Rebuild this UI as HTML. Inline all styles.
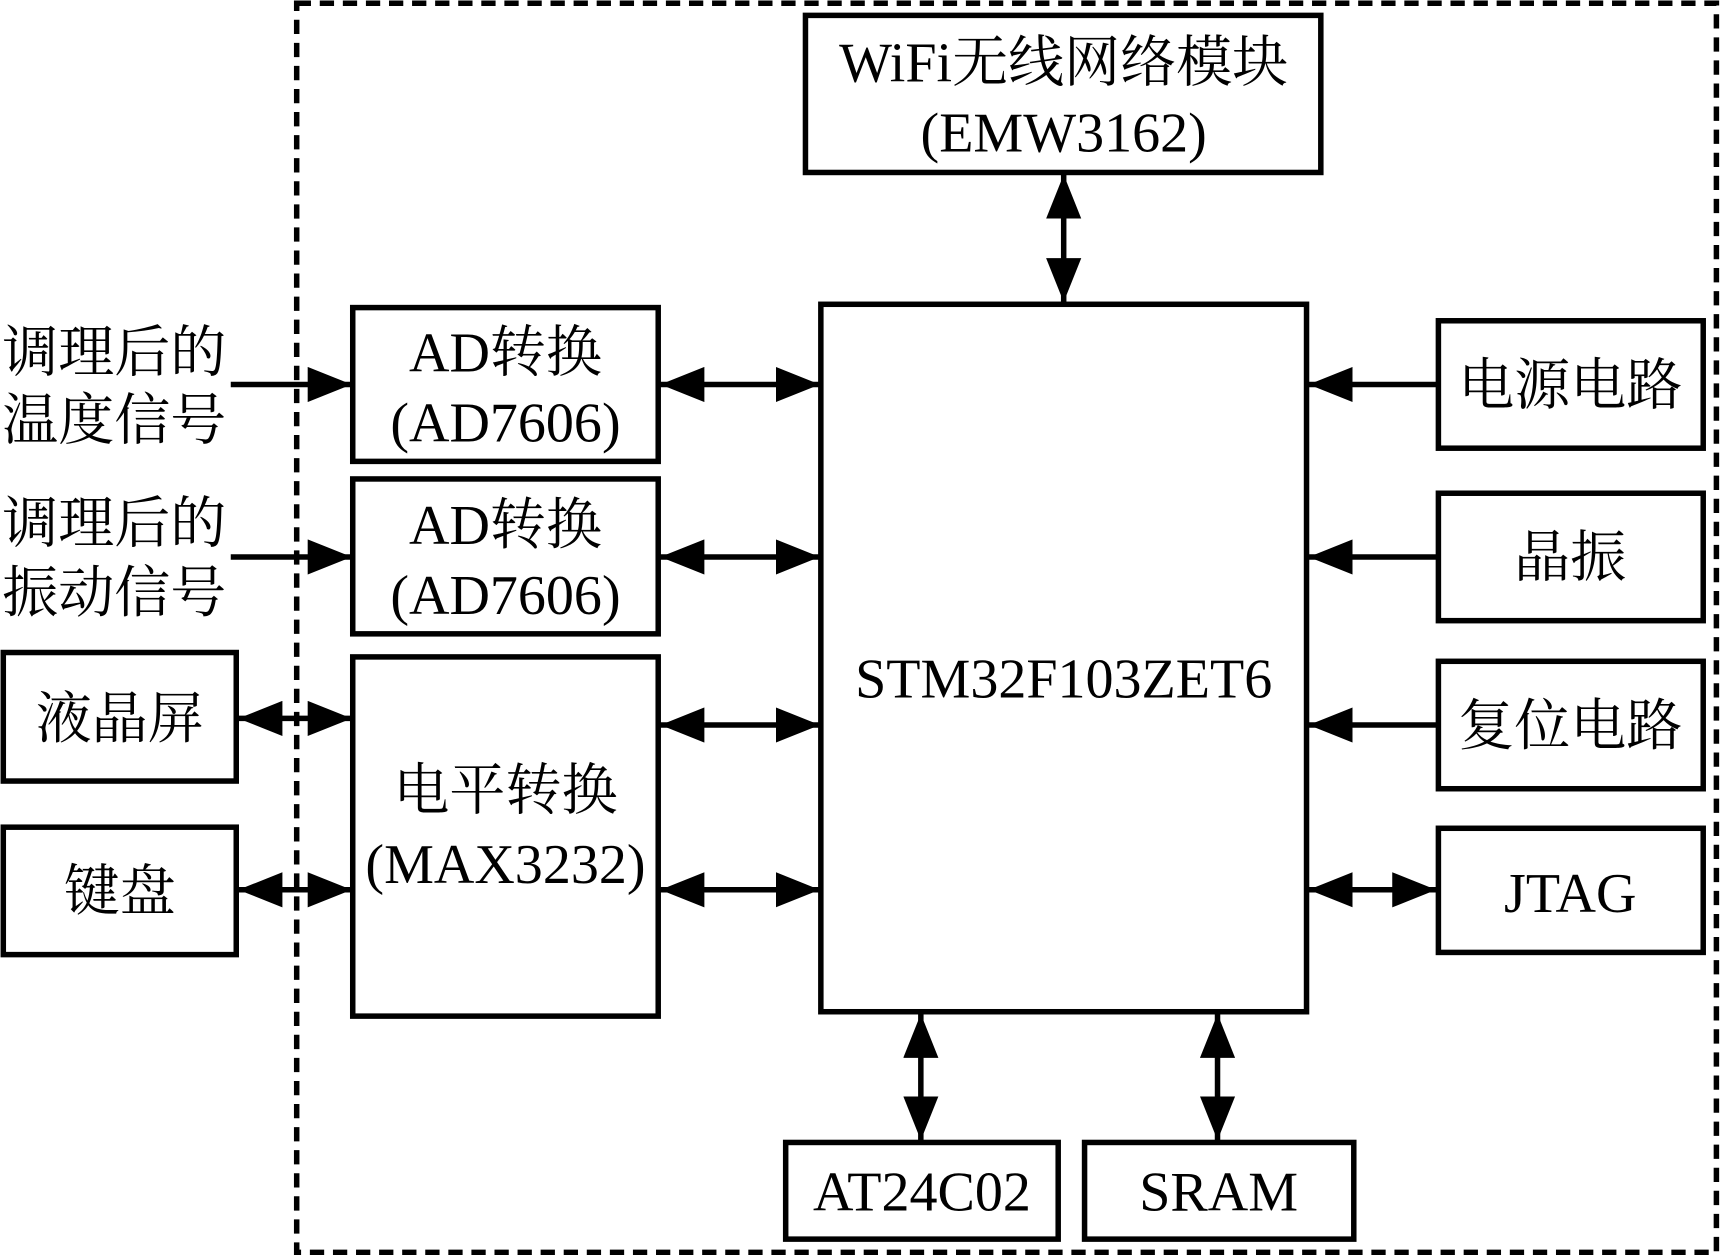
<!DOCTYPE html>
<html><head><meta charset="utf-8"><style>html,body{margin:0;padding:0;background:#fff}svg{display:block}</style></head>
<body>
<svg width="1723" height="1260" viewBox="0 0 1568 1147" preserveAspectRatio="none" xmlns="http://www.w3.org/2000/svg">
<defs>
<marker id="a" viewBox="0 0 40 32" refX="40" refY="16" markerWidth="40" markerHeight="32" markerUnits="userSpaceOnUse" orient="auto-start-reverse"><path d="M0,0 L40,16 L0,32 Z" fill="#000"/></marker>
</defs>
<rect x="270" y="3" width="1292" height="1137" fill="none" stroke="#000" stroke-width="5" stroke-dasharray="13,8"/>
<g fill="none" stroke="#000" stroke-width="5">
<rect x="733" y="14" width="469" height="143" fill="#fff"/>
<rect x="747" y="277" width="442" height="644"/>
<rect x="321" y="280" width="278" height="140"/>
<rect x="321" y="436" width="278" height="141"/>
<rect x="321" y="598" width="278" height="327"/>
<rect x="3" y="594" width="212" height="117"/>
<rect x="3" y="753" width="212" height="116"/>
<rect x="1309" y="292" width="241" height="116"/>
<rect x="1309" y="449" width="241" height="116"/>
<rect x="1309" y="602" width="241" height="116"/>
<rect x="1309" y="754" width="241" height="113"/>
<rect x="715" y="1040" width="248" height="88"/>
<rect x="987" y="1040" width="245" height="88"/>
</g>
<g stroke="#000" stroke-width="5" marker-end="url(#a)">
<line x1="968" y1="159" x2="968" y2="275" marker-start="url(#a)"/>
<line x1="210" y1="350" x2="320" y2="350"/>
<line x1="210" y1="507" x2="320" y2="507"/>
<line x1="217" y1="654" x2="320" y2="654" marker-start="url(#a)"/>
<line x1="217" y1="810" x2="320" y2="810" marker-start="url(#a)"/>
<line x1="601" y1="350" x2="746" y2="350" marker-start="url(#a)"/>
<line x1="601" y1="507" x2="746" y2="507" marker-start="url(#a)"/>
<line x1="601" y1="660" x2="746" y2="660" marker-start="url(#a)"/>
<line x1="601" y1="810" x2="746" y2="810" marker-start="url(#a)"/>
<line x1="1309" y1="350" x2="1191" y2="350"/>
<line x1="1309" y1="507" x2="1191" y2="507"/>
<line x1="1309" y1="660" x2="1191" y2="660"/>
<line x1="1191" y1="810" x2="1307" y2="810" marker-start="url(#a)"/>
<line x1="838" y1="923" x2="838" y2="1038" marker-start="url(#a)"/>
<line x1="1108" y1="923" x2="1108" y2="1038" marker-start="url(#a)"/>
</g>
<g font-family="'Liberation Serif','Noto Serif CJK SC',serif" font-size="51" fill="#000" text-anchor="middle">
<text x="968" y="74">WiFi无线网络模块</text>
<text x="968" y="138">(EMW3162)</text>
<text x="968" y="635">STM32F103ZET6</text>
<text x="460" y="338">AD转换</text>
<text x="460" y="402">(AD7606)</text>
<text x="460" y="495">AD转换</text>
<text x="460" y="559">(AD7606)</text>
<text x="460" y="737">电平转换</text>
<text x="460" y="804">(MAX3232)</text>
<text x="109" y="672">液晶屏</text>
<text x="109" y="829">键盘</text>
<text x="1429" y="368">电源电路</text>
<text x="1429" y="525">晶振</text>
<text x="1429" y="678">复位电路</text>
<text x="1429" y="830">JTAG</text>
<text x="839" y="1102">AT24C02</text>
<text x="1109" y="1102">SRAM</text>
<g text-anchor="start">
<text x="2" y="338">调理后的</text>
<text x="2" y="400">温度信号</text>
<text x="2" y="494">调理后的</text>
<text x="2" y="557">振动信号</text>
</g>
</g>
</svg>
</body></html>
